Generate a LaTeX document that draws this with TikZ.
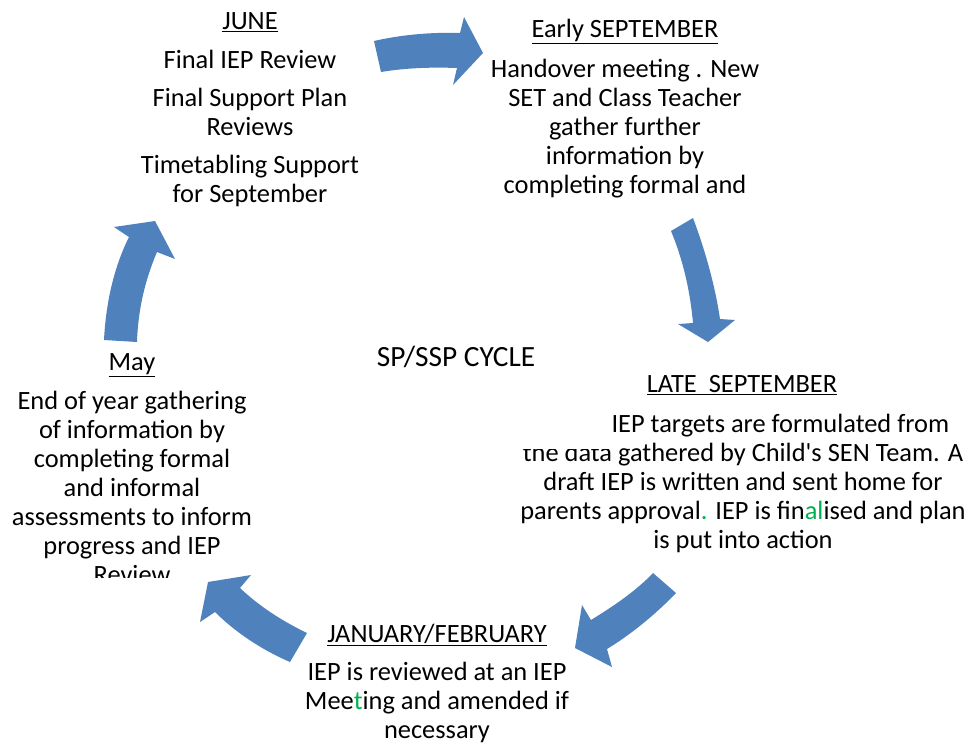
\documentclass[tikz,border=0pt]{standalone}
\usepackage{fontspec}
\setmainfont{Carlito}
\usetikzlibrary{positioning}

\definecolor{cycleblue}{HTML}{4F81BD}
\definecolor{notegreen}{HTML}{00B050}

% base of a multi-line stage node sits on its last line
\tikzset{
  stage/.style={align=center, inner sep=0pt, anchor=base,
    font=\fontsize{19.8}{21.75}\selectfont},
  bend arrow/.style={fill=cycleblue, draw=none},
}

\begin{document}
\begin{tikzpicture}[x=0.75pt, y=-0.75pt]
\useasboundingbox (0,0) rectangle (967,744);

% Curved arrows round the cycle
\fill[bend arrow] (374,41) .. controls (400,35) and (430,32) .. (460,33)
  -- (464,17) -- (483,53) -- (453,85) -- (457,68)
  .. controls (430,67) and (405,68) .. (381,72) -- cycle;
\fill[bend arrow] (671,231) -- (693,218) .. controls (705,250) and (715,285) .. (720,319)
  -- (735,320) -- (708,342) -- (678,324) -- (693,323)
  .. controls (690,290) and (683,260) .. (671,231) -- cycle;
\fill[bend arrow] (653,573) -- (676,593) .. controls (655,615) and (630,635) .. (607,649)
  -- (612,667) -- (575,648) -- (582,605) -- (591,620)
  .. controls (612,607) and (635,592) .. (653,573) -- cycle;
\fill[bend arrow] (307,633) .. controls (280,620) and (258,605) .. (240,588)
  -- (251,575) -- (208,582) -- (200,622) -- (215,612)
  .. controls (235,632) and (262,650) .. (290,662) -- cycle;
\fill[bend arrow] (104,340) .. controls (106,300) and (115,265) .. (129,237)
  -- (114,227) -- (155,221) -- (175,259) -- (157,252)
  .. controls (145,280) and (138,310) .. (137,342) -- cycle;

% June
\node[stage] (june) at (250,29) {\underline{JUNE}};
\node[stage] (junetxt) at (250,202) {Final IEP Review\\[6.75pt]
  Final Support Plan\\Reviews\\[6.75pt]
  Timetabling Support\\for September};

% Early September
\node[stage] (earlysep) at (625,37) {\underline{Early SEPTEMBER}};
\node[stage] (earlyseptxt) at (625,193) {Handover meeting . New\\SET and Class Teacher\\
  gather further\\information by\\completing formal and};

% Late September
\node[stage] (latesep) at (742,392) {\underline{LATE\ \ SEPTEMBER}};
\node[stage] (lateseptxt) at (743,548) {\hspace*{56pt}IEP targets are formulated from\\
  the data gathered by Child\textquotesingle s SEN Team. A\\
  draft IEP is written and sent home for\\
  parents approval\textcolor{notegreen}{.} IEP is fin\textcolor{notegreen}{al}ised and plan\\
  is put into action};
\fill[white] (505,405) rectangle (612,449);

% January / February
\node[stage] (janfeb) at (437,642) {\underline{JANUARY/FEBRUARY}};
\node[stage] (janfebtxt) at (437,738) {IEP is reviewed at an IEP\\
  Mee\textcolor{notegreen}{t}ing and amended if\\necessary};

% May
\node[stage] (may) at (132,370) {\underline{May}};
\begin{scope}
  \clip (0,380) rectangle (300,577);
  \node[stage] (maytxt) at (132,583) {End of year gathering\\of information by\\
    completing formal\\and informal\\assessments to inform\\progress and IEP\\Review};
\end{scope}

% Centre title
\node[stage, font=\fontsize{22}{26}\selectfont] (cycle) at (456,366) {SP/SSP CYCLE};

\end{tikzpicture}
\end{document}
